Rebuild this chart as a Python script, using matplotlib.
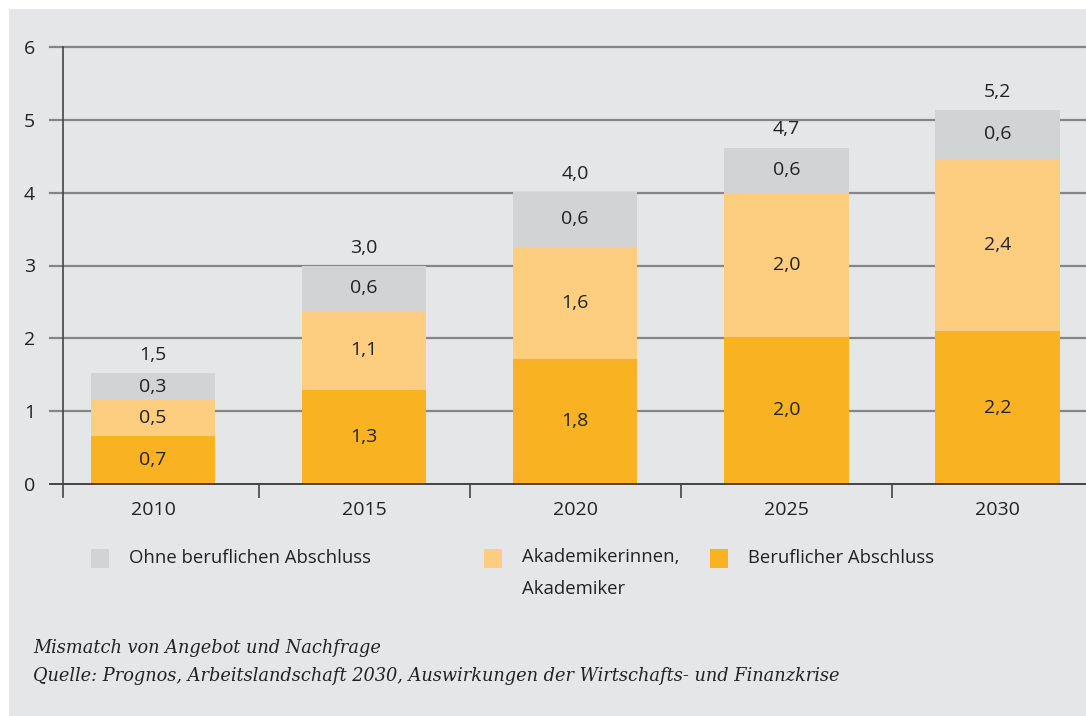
import matplotlib
matplotlib.use("Agg")
import matplotlib.pyplot as plt
from matplotlib.patches import Rectangle

# data
years = ["2010", "2015", "2020", "2025", "2030"]
beruflich = [0.66, 1.29, 1.72, 2.02, 2.10]
akademiker = [0.49, 1.09, 1.54, 1.98, 2.36]
ohne = [0.37, 0.61, 0.75, 0.62, 0.68]

beruflich_lbl = ["0,7", "1,3", "1,8", "2,0", "2,2"]
akademiker_lbl = ["0,5", "1,1", "1,6", "2,0", "2,4"]
ohne_lbl = ["0,3", "0,6", "0,6", "0,6", "0,6"]
total_lbl = ["1,5", "3,0", "4,0", "4,7", "5,2"]

series_names = ["Ohne beruflichen Abschluss", "Akademikerinnen,\nAkademiker", "Beruflicher Abschluss"]
yticks = [0, 1, 2, 3, 4, 5, 6]

c_beruf = "#f9b222"
c_akad = "#fdcd80"
c_ohne = "#d2d3d5"
bg = "#e5e6e8"
txt = "#222222"

plt.rcParams["font.family"] = ["Open Sans", "DejaVu Sans"]

W, H = 1086, 716
fig = plt.figure(figsize=(W / 100, H / 100), dpi=100, facecolor="white")
# grey panel behind everything
fig.patches.append(Rectangle((9 / W, 0), 1, 1 - 9 / H, transform=fig.transFigure,
                             facecolor=bg, edgecolor="none", zorder=-10))

ax = fig.add_axes([63 / W, (H - 484) / H, (W - 63) / W, (484 - 47) / H])
ax.patch.set_alpha(0)
for s in ax.spines.values():
    s.set_visible(False)

x = list(range(len(years)))
bw = 0.59
bottom2 = [a + b for a, b in zip(beruflich, akademiker)]
bottom3 = [a + b for a, b in zip(bottom2, ohne)]

ax.bar(x, beruflich, bw, color=c_beruf, zorder=3)
ax.bar(x, akademiker, bw, bottom=beruflich, color=c_akad, zorder=3)
ax.bar(x, ohne, bw, bottom=bottom2, color=c_ohne, zorder=3)

fs = 14
for i in x:
    ax.text(i, beruflich[i] / 2, beruflich_lbl[i], ha="center", va="center", fontsize=fs, color=txt, zorder=4)
    ax.text(i, beruflich[i] + akademiker[i] / 2, akademiker_lbl[i], ha="center", va="center", fontsize=fs, color=txt, zorder=4)
    ax.text(i, bottom2[i] + ohne[i] / 2, ohne_lbl[i], ha="center", va="center", fontsize=fs, color=txt, zorder=4)
    ax.annotate(total_lbl[i], (i, bottom3[i]), xytext=(0, 13), textcoords="offset points",
                ha="center", va="center", fontsize=fs, color=txt, zorder=4)

ax.set_xlim(-0.4265, 4.42)
ax.set_ylim(0, 6)

# gridlines that run a little past the y axis
ext = -13 / (W - 63)
for t in yticks[1:]:
    ax.axhline(t, xmin=ext, xmax=1, color="#858585", lw=1.6, clip_on=False, zorder=1)
ax.axhline(0, xmin=ext, xmax=1, color="#444444", lw=1.4, clip_on=False, zorder=5)
ax.axvline(-0.4265, ymin=-13 / 437, ymax=1, color="#444444", lw=1.2, clip_on=False, zorder=5)

ax.set_yticks(yticks)
ax.set_yticklabels([str(t) for t in yticks])
ax.tick_params(axis="y", length=0, pad=20, labelsize=14, labelcolor=txt)
ax.set_xticks(x)
ax.set_xticklabels(years)
ax.set_xticks([0.5, 1.5, 2.5, 3.5], minor=True)
ax.tick_params(axis="x", which="major", length=0, pad=12, labelsize=14, labelcolor=txt)
ax.tick_params(axis="x", which="minor", length=10, width=1.2, color="#444444", direction="out")

# legend
colors = [c_ohne, c_akad, c_beruf]
px = [91, 484, 710]
for name, c, p in zip(series_names, colors, px):
    fig.patches.append(Rectangle((p / W, (H - 568) / H), 18 / W, 19 / H, transform=fig.transFigure,
                                 facecolor=c, edgecolor="none"))
    yc = 573 if "\n" in name else 558
    fig.text((p + 38) / W, (H - yc) / H, name, ha="left", va="center",
             fontsize=13.3, color=txt, linespacing=2.05)

fig.text(33 / W, (H - 648) / H, "Mismatch von Angebot und Nachfrage", fontsize=12.75,
         family="DejaVu Serif", style="italic", va="center", color=txt)
fig.text(33 / W, (H - 676) / H,
         "Quelle: Prognos, Arbeitslandschaft 2030, Auswirkungen der Wirtschafts- und Finanzkrise",
         fontsize=12.75, family="DejaVu Serif", style="italic", va="center", color=txt)

fig.savefig("out.png", dpi=100, facecolor="white")
